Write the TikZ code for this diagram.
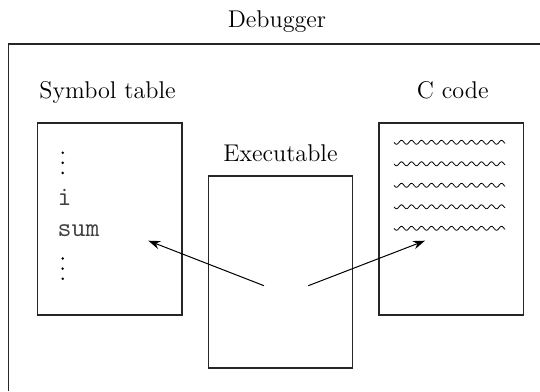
\documentclass[tikz,border=0pt]{standalone}
\usetikzlibrary{arrows.meta}
\begin{document}
\begin{tikzpicture}[x=0.5pt,y=-0.5pt,
  box/.style={draw=black!85, line width=0.75pt, minimum width=72.2pt, minimum height=96pt, inner sep=0pt},
  lbl/.style={font=\fontsize{12.1}{15}\selectfont, anchor=base, inner sep=0pt},
  entry/.style={font=\fontsize{13.5}{16}\selectfont\ttfamily, text=black!75, anchor=base west, inner sep=0pt},
  ptr/.style={-{Stealth[length=6pt,width=4.2pt]}, line width=0.5pt}]
  \useasboundingbox (0,0) rectangle (540,391);
  % debugger frame, open to the right and bottom
  \node[lbl] (dbg) at (277,27.5) {Debugger};
  \draw[draw=black!85, line width=0.75pt] (540,44) -- (8.6,44) -- (8.6,391);
  % the three files
  \node[box] (symtab) at (109.6,219.2) {};
  \node[box] (exe) at (280.5,272.2) {};
  \node[box] (ccode) at (451.2,219.2) {};
  \node[lbl] (symlbl) at (107.6,98.3) {Symbol table};
  \node[lbl] (exelbl) at (280.5,161.7) {Executable};
  \node[lbl] (clbl) at (452.8,98.3) {C code};
  % symbol table entries
  \node[entry] (vi) at (57.3,205) {i};
  \node[entry] (vsum) at (57.3,236) {sum};
  \foreach \y in {152.7,162.8,172.9,258.5,268.6,278.7}
    \fill (62.7,\y) circle[radius=1.4];
  % source lines
  \foreach \y in {142.3,163.8,185.3,206.8,228.3}
    \draw[line width=0.4pt] plot[domain=394:505,samples=120,smooth] (\x,{\y+2*sin((\x-394)*36)});
  % pointers
  \coordinate (exeL) at (264,285.7);
  \coordinate (exeR) at (308.3,285.7);
  \coordinate (symTip) at (148.3,240.7);
  \coordinate (cTip) at (425,240.7);
  \draw[ptr] (exeL) -- (symTip);
  \draw[ptr] (exeR) -- (cTip);
\end{tikzpicture}
\end{document}
